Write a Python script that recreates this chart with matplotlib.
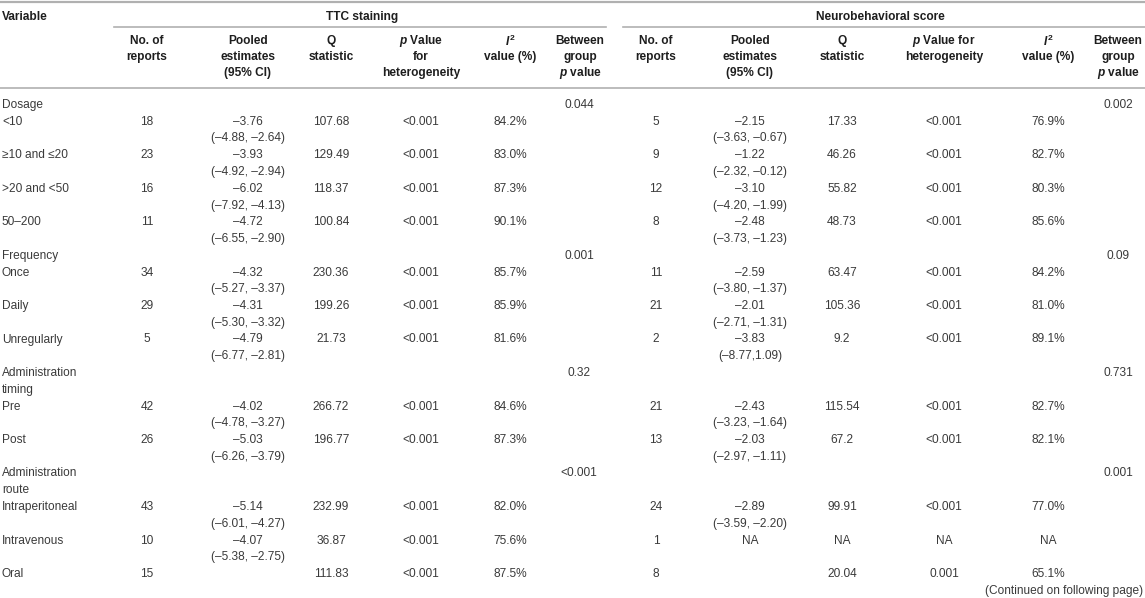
import matplotlib.pyplot as plt

plt.rcParams['font.family'] = ['Liberation Sans', 'DejaVu Sans']
plt.rcParams['mathtext.fontset'] = 'custom'
plt.rcParams['mathtext.it'] = 'Liberation Sans:italic:bold'
plt.rcParams['mathtext.rm'] = 'Liberation Sans:bold'
plt.rcParams['mathtext.bf'] = 'Liberation Sans:bold'

# groups and their subgroups
groups = [["Dosage"], ["Frequency"], ["Administration", "timing"], ["Administration", "route"]]
subgroups = [["<10", "≥10 and ≤20", ">20 and <50", "50–200"],
             ["Once", "Daily", "Unregularly"],
             ["Pre", "Post"],
             ["Intraperitoneal", "Intravenous", "Oral"]]
ttc_between = ["0.044", "0.001", "0.32", "<0.001"]
neuro_between = ["0.002", "0.09", "0.731", "0.001"]

# TTC staining
ttc_n = ["18", "23", "16", "11", "34", "29", "5", "42", "26", "43", "10", "15"]
ttc_est = ["–3.76", "–3.93", "–6.02", "–4.72", "–4.32", "–4.31", "–4.79", "–4.02", "–5.03", "–5.14", "–4.07", ""]
ttc_ci = ["(–4.88, –2.64)", "(–4.92, –2.94)", "(–7.92, –4.13)", "(–6.55, –2.90)", "(–5.27, –3.37)",
          "(–5.30, –3.32)", "(–6.77, –2.81)", "(–4.78, –3.27)", "(–6.26, –3.79)", "(–6.01, –4.27)",
          "(–5.38, –2.75)", ""]
ttc_q = ["107.68", "129.49", "118.37", "100.84", "230.36", "199.26", "21.73", "266.72", "196.77", "232.99", "36.87", "111.83"]
ttc_p = ["<0.001"] * 12
ttc_i2 = ["84.2%", "83.0%", "87.3%", "90.1%", "85.7%", "85.9%", "81.6%", "84.6%", "87.3%", "82.0%", "75.6%", "87.5%"]

# Neurobehavioral score
neuro_n = ["5", "9", "12", "8", "11", "21", "2", "21", "13", "24", "1", "8"]
neuro_est = ["–2.15", "–1.22", "–3.10", "–2.48", "–2.59", "–2.01", "–3.83", "–2.43", "–2.03", "–2.89", "NA", ""]
neuro_ci = ["(–3.63, –0.67)", "(–2.32, –0.12)", "(–4.20, –1.99)", "(–3.73, –1.23)", "(–3.80, –1.37)",
            "(–2.71, –1.31)", "(–8.77,1.09)", "(–3.23, –1.64)", "(–2.97, –1.11)", "(–3.59, –2.20)", "", ""]
neuro_q = ["17.33", "46.26", "55.82", "48.73", "63.47", "105.36", "9.2", "115.54", "67.2", "99.91", "NA", "20.04"]
neuro_p = ["<0.001"] * 10 + ["NA", "0.001"]
neuro_i2 = ["76.9%", "82.7%", "80.3%", "85.6%", "84.2%", "81.0%", "89.1%", "82.7%", "82.1%", "77.0%", "NA", "65.1%"]

ttc_heads = [["No. of", "reports"], ["Pooled", "estimates", "(95% CI)"], ["Q", "statistic"],
             ["$p$ Value", "for", "heterogeneity"], ["$I^2$", "value (%)"], ["Between", "group", "$p$ value"]]
neuro_heads = [["No. of", "reports"], ["Pooled", "estimates", "(95% CI)"], ["Q", "statistic"],
               ["$p$ Value for", "heterogeneity"], ["$I^2$", "value (%)"], ["Between", "group", "$p$ value"]]

ttc_x = [147, 248, 331, 421, 510, 580]
neuro_x = [656, 750, 842, 944, 1048, 1118]

fs = 8.6
body = '#3a3a3a'
head = '#1e1e1e'
rule = '#b0b0b0'

fig = plt.figure(figsize=(11.45, 5.98), dpi=100)
ax = fig.add_axes([0, 0, 1, 1])
ax.set_xlim(0, 1145)
ax.set_ylim(598, 0)
ax.axis('off')

# rules
ax.plot([0, 1145], [1.5, 1.5], color=rule, lw=1.6)
ax.plot([114, 606], [27, 27], color=rule, lw=1.2)
ax.plot([623, 1145], [27, 27], color=rule, lw=1.2)
ax.plot([0, 1145], [88, 88], color=rule, lw=1.2)

# header
ax.text(2, 17, "Variable", fontsize=fs, fontweight='bold', color=head, va='center', ha='left')
ax.text(362, 17, "TTC staining", fontsize=fs, fontweight='bold', color=head, va='center', ha='center')
ax.text(880, 17, "Neurobehavioral score", fontsize=fs, fontweight='bold', color=head, va='center', ha='center')
for heads, xs in [(ttc_heads, ttc_x), (neuro_heads, neuro_x)]:
    for lines, x in zip(heads, xs):
        for j, s in enumerate(lines):
            ax.text(x, 41 + 16 * j, s, fontsize=fs, fontweight='bold', color=head, va='center', ha='center')

# body
def line_y(k):
    return 105 + 16.75 * k

k = 0
r = 0
for gi, g in enumerate(groups):
    ax.text(579, line_y(k), ttc_between[gi], fontsize=fs, color=body, va='center', ha='center')
    ax.text(1118, line_y(k), neuro_between[gi], fontsize=fs, color=body, va='center', ha='center')
    for s in g:
        ax.text(2, line_y(k), s, fontsize=fs, color=body, va='center', ha='left')
        k += 1
    for s in subgroups[gi]:
        y1 = line_y(k)
        y2 = line_y(k + 1)
        ax.text(2, y1, s, fontsize=fs, color=body, va='center', ha='left')
        cols = [ttc_n, ttc_est, ttc_q, ttc_p, ttc_i2, neuro_n, neuro_est, neuro_q, neuro_p, neuro_i2]
        xs = ttc_x[:5] + neuro_x[:5]
        for col, x in zip(cols, xs):
            ax.text(x, y1, col[r], fontsize=fs, color=body, va='center', ha='center')
        ax.text(ttc_x[1], y2, ttc_ci[r], fontsize=fs, color=body, va='center', ha='center')
        ax.text(neuro_x[1], y2, neuro_ci[r], fontsize=fs, color=body, va='center', ha='center')
        k += 2
        r += 1

ax.text(1143, line_y(29), "(Continued on following page)", fontsize=fs, color=body, va='center', ha='right')

fig.savefig('out.png', dpi=100)
